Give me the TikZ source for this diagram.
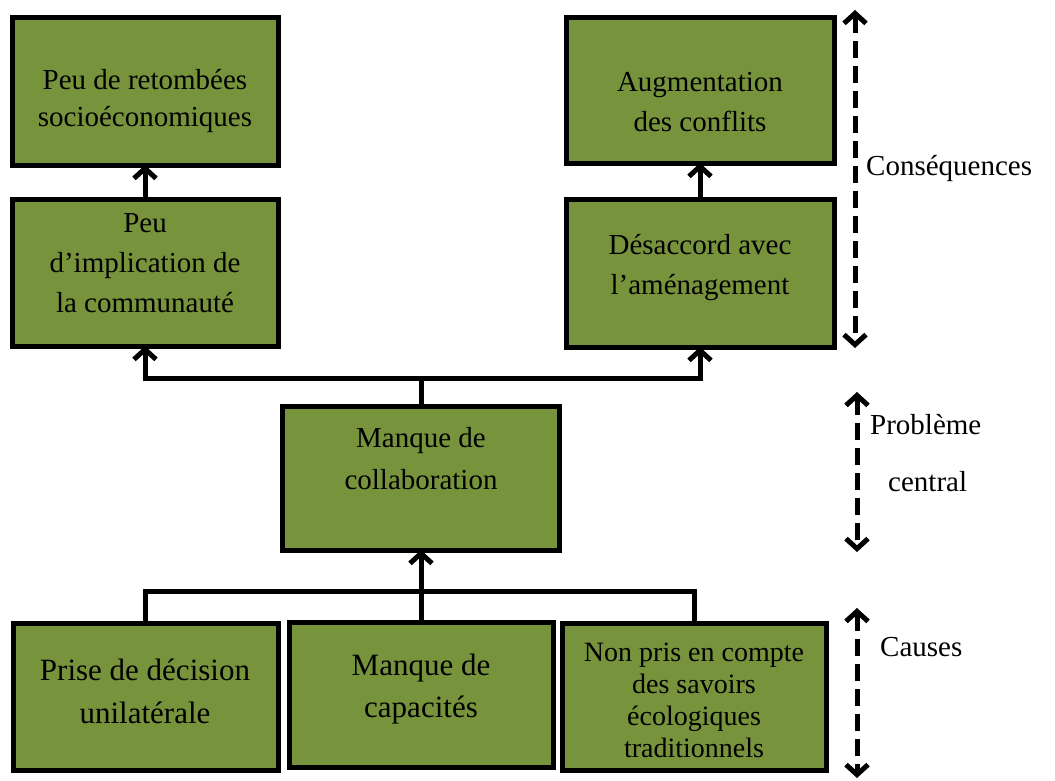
\documentclass[tikz,border=0pt]{standalone}
\usepackage{fontspec}
\setmainfont{Liberation Serif}
\usetikzlibrary{arrows.meta}
\definecolor{olivebox}{HTML}{77933C}
\begin{document}
\begin{tikzpicture}[x=1pt,y=-1pt,
  box/.style={draw=black, line width=5pt, fill=olivebox, inner sep=0pt, outer sep=0pt},
  txt/.style={align=center, inner sep=0pt, font=\fontsize{29}{40}\selectfont},
  conn/.style={line width=5pt, draw=black},
  arr/.style={conn, -{Straight Barb[length=10pt,width=22pt]}},
  dasharr/.style={line width=5pt, dash pattern=on 17pt off 8pt,
     {Straight Barb[length=10pt,width=22pt]}-{Straight Barb[length=10pt,width=22pt]}},
  lbl/.style={anchor=west, inner sep=0pt, font=\fontsize{29}{40}\selectfont}]
\useasboundingbox (0,0) rectangle (1055,780);
\fill[white] (0,0) rectangle (1055,780);

% boxes
\node[box, minimum width=266pt, minimum height=148pt] (b1) at (145,91) {};
\node[box, minimum width=266pt, minimum height=147pt] (b2) at (145,272.5) {};
\node[box, minimum width=268pt, minimum height=146pt] (b3) at (700,90) {};
\node[box, minimum width=268pt, minimum height=148pt] (b4) at (700,273) {};
\node[box, minimum width=277pt, minimum height=144pt] (bc) at (421,478) {};
\node[box, minimum width=265pt, minimum height=147pt] (ba) at (145.5,696.5) {};
\node[box, minimum width=264pt, minimum height=145pt] (bb) at (421,694.5) {};
\node[box, minimum width=264pt, minimum height=147pt] (bd) at (694,696.5) {};

% texts
\node[txt, font=\fontsize{29}{37}\selectfont] (t1) at (145,101) {Peu de retombées\\socioéconomiques};
\node[txt] (t2) at (145,263) {Peu\\d’implication de\\la communauté};
\node[txt] (t3) at (700,102) {Augmentation\\des conflits};
\node[txt] (t4) at (700,268) {Désaccord avec\\l’aménagement};
\node[txt, font=\fontsize{29}{42}\selectfont] (tc) at (421,459) {Manque de\\collaboration};
\node[txt, font=\fontsize{31}{43}\selectfont] (ta) at (145,691.5) {Prise de décision\\unilatérale};
\node[txt, font=\fontsize{31}{42}\selectfont] (tb) at (421,689) {Manque de\\capacités};
\node[txt, font=\fontsize{28}{32}\selectfont] (td) at (694,700.5) {Non pris en compte\\des savoirs\\écologiques\\traditionnels};

% connectors
\draw[arr] (b2.north) -- (b1.south);
\draw[arr] (b4.north) -- (b3.south);
\coordinate (jt) at ([yshift=28pt]bc.north);
\draw[conn] (bc.north) -- (jt);
\draw[arr] (jt) -| (b2.south);
\draw[arr] (jt) -| (b4.south);
\coordinate (jb) at ([yshift=31pt]bb.north);
\draw[conn] (jb) -| (ba.north);
\draw[conn] (jb) -| (bd.north);
\draw[arr] (bb.north) -- (bc.south);

% level arrows
\coordinate (c1t) at (855,10);
\coordinate (c1b) at (855,348);
\coordinate (c2t) at (857,392);
\coordinate (c2b) at (857,552);
\coordinate (c3t) at (857,608);
\coordinate (c3b) at (857,778);
\draw[dasharr] (c1t) -- (c1b);
\draw[dasharr] (c2t) -- (c2b);
\draw[dasharr] (c3t) -- (c3b);

\node[lbl] (l1) at (866,168) {Conséquences};
\node[lbl] (l2) at (870,425) {Problème};
\node[lbl] (l3) at (888,482) {central};
\node[lbl] (l4) at (880,647) {Causes};
\end{tikzpicture}
\end{document}
